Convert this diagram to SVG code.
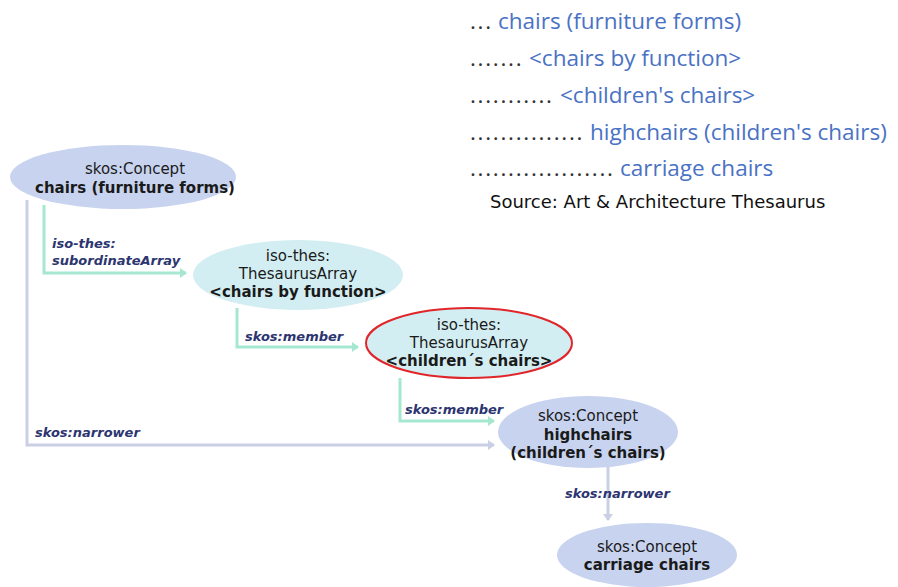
<svg xmlns="http://www.w3.org/2000/svg" width="898" height="587" viewBox="0 0 898 587">
<style>
.concept{fill:#c8d3ef}
.array{fill:#d3eef2}
.t{font-family:"DejaVu Sans",Verdana,sans-serif;font-size:15px;fill:#1a1a1a;text-anchor:middle}
.b{font-weight:bold}
.lbl{font-family:"DejaVu Sans",Verdana,sans-serif;font-size:13px;font-weight:bold;font-style:italic;fill:#2c3570}
.g{fill:none;stroke:#a6e8cf;stroke-width:3}
.p{fill:none;stroke:#c9d0e4;stroke-width:3}
.list{font-family:"Open Sans","Liberation Sans",sans-serif;font-size:22.5px;fill:#4a72c4}
.dots{font-family:"Open Sans","Liberation Sans",sans-serif;font-size:22.5px;fill:#333;letter-spacing:1.7px}
.src{font-family:"DejaVu Sans",Verdana,sans-serif;font-size:18px;fill:#111}
</style>
<defs>
<marker id="ag" markerWidth="8" markerHeight="10" refX="6" refY="5" orient="auto" markerUnits="userSpaceOnUse"><path d="M0,0 L7,5 L0,10 Z" fill="#a6e8cf"/></marker>
<marker id="ap" markerWidth="8" markerHeight="10" refX="6" refY="5" orient="auto" markerUnits="userSpaceOnUse"><path d="M0,0 L7,5 L0,10 Z" fill="#c9d0e4"/></marker>
</defs>
<rect width="898" height="587" fill="#ffffff"/>
<g id="connectors">
<path class="g" d="M44,205 V273 H186" marker-end="url(#ag)"/>
<path class="p" d="M27,200 V445 H494" marker-end="url(#ap)"/>
<path class="g" d="M237,308 V347 H358" marker-end="url(#ag)"/>
<path class="g" d="M400,378 V421 H494" marker-end="url(#ag)"/>
<path class="p" d="M608,466 V520" marker-end="url(#ap)"/>
<text class="lbl" x="52" y="248">iso-thes:</text>
<text class="lbl" x="52" y="265">subordinateArray</text>
<text class="lbl" x="35" y="437">skos:narrower</text>
<text class="lbl" x="245" y="341">skos:member</text>
<text class="lbl" x="405" y="414">skos:member</text>
<text class="lbl" x="565" y="498">skos:narrower</text>
</g>
<g id="n1">
<ellipse class="concept" cx="123" cy="177" rx="113" ry="32"/>
<text class="t" x="135" y="174">skos:Concept</text>
<text class="t b" x="135" y="193">chairs (furniture  forms)</text>
</g>
<g id="n2">
<ellipse class="array" cx="298" cy="275" rx="105" ry="35"/>
<text class="t" x="298" y="261">iso-thes:</text>
<text class="t" x="298" y="279">ThesaurusArray</text>
<text class="t b" x="298" y="297">&lt;chairs by function&gt;</text>
</g>
<g id="n3">
<ellipse class="array" cx="469" cy="343" rx="103" ry="35" stroke="#e0262a" stroke-width="2"/>
<text class="t" x="469" y="330">iso-thes:</text>
<text class="t" x="469" y="348">ThesaurusArray</text>
<text class="t b" x="469" y="366">&lt;children´s chairs&gt;</text>
</g>
<g id="n4">
<ellipse class="concept" cx="588" cy="432" rx="90" ry="36"/>
<text class="t" x="588" y="421">skos:Concept</text>
<text class="t b" x="588" y="440">highchairs</text>
<text class="t b" x="588" y="458">(children´s chairs)</text>
</g>
<g id="n5">
<ellipse class="concept" cx="647" cy="555" rx="90" ry="32"/>
<text class="t" x="647" y="552">skos:Concept</text>
<text class="t b" x="647" y="570">carriage chairs</text>
</g>
<g id="hierarchy">
<text class="dots" x="470" y="29">...</text>
<text class="list" x="498" y="29">chairs (furniture forms)</text>
<text class="dots" x="470" y="66">.......</text>
<text class="list" x="529" y="66">&lt;chairs by function&gt;</text>
<text class="dots" x="470" y="103">...........</text>
<text class="list" x="560" y="103">&lt;children's chairs&gt;</text>
<text class="dots" x="470" y="140">...............</text>
<text class="list" x="590" y="140">highchairs (children's chairs)</text>
<text class="dots" x="470" y="176">...................</text>
<text class="list" x="620" y="176">carriage chairs</text>
<text class="src" x="490" y="208">Source: Art &amp; Architecture Thesaurus</text>
</g>
</svg>
